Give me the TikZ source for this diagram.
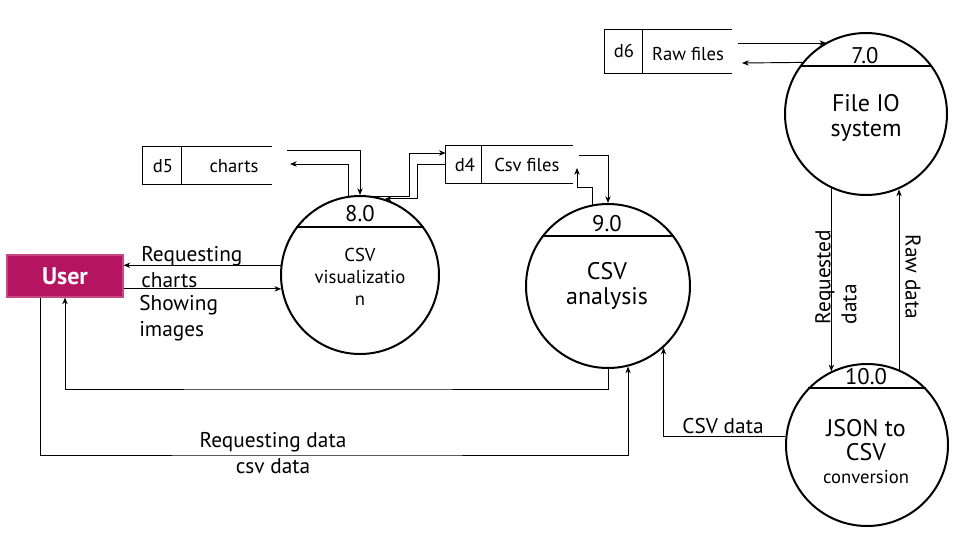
\documentclass[tikz,border=0pt]{standalone}
\usepackage{fontspec}
\setmainfont{PT Sans}
\usetikzlibrary{arrows.meta,calc}
\definecolor{userfill}{RGB}{180,20,96}
\definecolor{userline}{RGB}{200,70,130}
\begin{document}
\begin{tikzpicture}[x=0.75pt,y=-0.75pt,
  proc/.style={circle,draw,line width=1.5pt,minimum size=#1*1.5pt,inner sep=0pt},
  chord/.style={line width=1.5pt},
  flow/.style={line width=0.7pt,-{Stealth[length=5pt,width=4pt,inset=1.5pt]}},
  plain/.style={line width=0.7pt},
  storeline/.style={line width=0.8pt},
  store/.style={inner sep=0pt,minimum width=#1*0.75pt,minimum height=27.75pt},
  storetxt/.style={inner sep=0pt,font=\fontsize{14}{17}\selectfont},
  numtxt/.style={inner sep=0pt,font=\fontsize{17}{20}\selectfont},
  bigtxt/.style={inner sep=0pt,align=center,font=\fontsize{18}{18.5}\selectfont},
  smalltxt/.style={inner sep=0pt,align=center,font=\fontsize{14}{16.5}\selectfont},
  lbl/.style={inner sep=0pt,font=\fontsize{16}{19.5}\selectfont},
  user/.style={rectangle,fill=userfill,draw=userline,line width=0.8pt,
    minimum width=87pt,minimum height=31.5pt,inner sep=0pt,
    text=white,font=\bfseries\fontsize{18}{20}\selectfont}
]
\useasboundingbox (0,0) rectangle (960,540);

% processes
\node[proc=79] (c8) at (360,275) {};
\node[proc=82] (c9) at (608,286) {};
\node[proc=81] (c7) at (866,114) {};
\node[proc=81] (c10) at (867,445) {};
\draw[chord] (c8.143) -- (c8.37);
\draw[chord] (c9.143) -- (c9.37);
\draw[chord] (c7.144) -- (c7.36);
\draw[chord] (c10.136) -- (c10.44);

\node[numtxt] (c8n) at (360,214) {8.0};
\node[smalltxt] (c8t) at (360,277) {CSV\\visualizatio\\n};
\node[numtxt] (c9n) at (607,224) {9.0};
\node[bigtxt] (c9t) at (607,286) {CSV\\analysis};
\node[numtxt] (c7n) at (865,56) {7.0};
\node[bigtxt] (c7t) at (866,118) {File IO\\system};
\node[numtxt] (c10n) at (866,377) {10.0};
\node[bigtxt] (c10t) at (866,440) {JSON to\\CSV};
\node[smalltxt] (c10s) at (866,477) {conversion};

% user
\node[user] (user) at (65,276) {User};

% data stores
\node[store=129] (d5) at (207.5,165.5) {};
\draw[storeline] (d5.north east) -- (d5.north west) -- (d5.south west) -- (d5.south east);
\draw[storeline] ($(d5.north west)+(39,0)$) -- ($(d5.south west)+(39,0)$);
\node[storetxt] (d5id) at (163,166) {d5};
\node[storetxt] (d5l) at (234,166) {charts};

\node[store=127] (d4) at (509.5,164.5) {};
\draw[storeline] (d4.north east) -- (d4.north west) -- (d4.south west) -- (d4.south east);
\draw[storeline] ($(d4.north west)+(36,0)$) -- ($(d4.south west)+(36,0)$);
\node[storetxt] (d4id) at (465,165) {d4};
\node[storetxt] (d4l) at (527,165) {Csv files};

\node[store=127,minimum height=32.25pt] (d6) at (668.5,51.5) {};
\draw[storeline] (d6.north east) -- (d6.north west) -- (d6.south west) -- (d6.south east);
\draw[storeline] ($(d6.north west)+(38,0)$) -- ($(d6.south west)+(38,0)$);
\node[storetxt] (d6id) at (624,51) {d6};
\node[storetxt] (d6l) at (688,54) {Raw files};

% free ends
\coordinate (p1) at (287,150);
\coordinate (p2) at (290,164);
\coordinate (p3) at (579,155);
\coordinate (p4a) at (577,187);
\coordinate (p4) at (577,168);
\coordinate (p5) at (738,43);
\coordinate (p6) at (742,63);
\coordinate (reqd) at (300,455);
\coordinate (ret) at (300,389);

% connectors
\draw[flow] (p1) -| (c8.north);
\draw[flow] (c8.98) |- (p2);
\draw[flow] (c8.81) -- ($(c8.81)+(37,0)$) |- ($(d4.west)+(0,-11.5)$);
\draw[flow] (d4.west) -- ++(-28,0) |- (c8.72);
\draw[flow] (p3) -| (c9.north);
\draw[flow] (c9.101) |- (p4a) -- (p4);
\draw[flow] (p5) -- (p5 -| c7.119);
\draw[flow] (c7.141) -- (p6);
\draw[flow] (c8.173) -- (c8.173 -| user.east);
\draw[flow] (c8.190 -| user.east) -- (c8.190);
\draw[flow] ($(user.south)+(-25,0)$) |- (reqd) -| (c9.284);
\draw[flow] (c9.south) |- (ret) -| (user.south);
\draw[flow] (c10.174) -| (c9.312);
\draw[flow] (c7.245) -- (c7.245 |- c10.116);
\draw[flow] (c10.67) -- (c10.67 |- c7.293);

% labels
\node[lbl,align=left,anchor=west] (lreq) at (141,267) {Requesting\\charts};
\node[lbl,align=left,anchor=west] (lshow) at (139,318) {Showing\\images};
\node[lbl,align=center] (lreqd) at (273,453) {Requesting data\\csv data};
\node[lbl] (lcsv) at (723,426) {CSV data};
\node[lbl,rotate=90,align=left] (lrq) at (836,277) {Requested\\data};
\node[lbl,rotate=-90] (lraw) at (913,277) {Raw data};
\end{tikzpicture}
\end{document}
